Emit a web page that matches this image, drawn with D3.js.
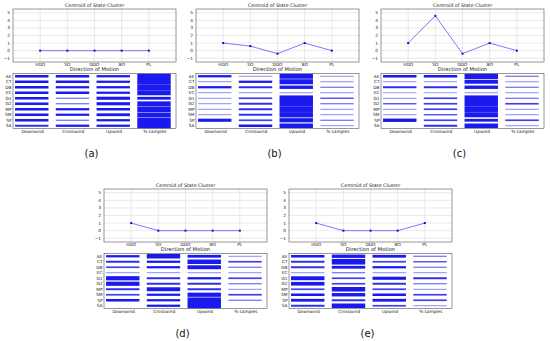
<!DOCTYPE html>
<html><head><meta charset="utf-8">
<script src="https://cdn.jsdelivr.net/npm/d3@7"></script>
<style>body{margin:0;background:#fff}svg{display:block}text{font-family:"DejaVu Sans",sans-serif}</style>
</head><body>
<script>
// ---------- data ----------
const features = ["HDO","SO","DDO","BO","PL"];
const states = ["AE","CT","DB","EC","G1","G2","MP","SM","SP","SA"];
const directions = ["Downwind","Crosswind","Upwind","% samples"];
const yTicks = [-1,0,1,2,3,4,5];
const captions = ["(a)","(b)","(c)","(d)","(e)"];

const centroidA = [0,0,0,0,0];
const centroidB = [1,0.6,-0.4,1,0];
const centroidC = [1,4.6,-0.4,1,0];
const centroidD = [1,0,0,0,0];
const centroidE = [1,0,0,0,1];

// rows = states, columns = directions (relative band thickness)
const motionA = [[0.45,0.45,0.4,1],[0.45,0.45,0.4,1],[0.45,0.4,0.4,1],[0.45,0.45,0.4,0.9],[0.45,0.2,0.55,0.5],
                 [0.45,0.2,0.55,0.85],[0.45,0.4,0.45,1],[0.45,0.4,0.5,0.8],[0.45,0.2,0.4,1],[0.35,0.4,0.4,1]];
const motionB = [[0.4,0.15,0.9,0.15],[0.15,0.4,0.9,0.15],[0.4,0.35,0.6,0.2],[0.15,0.15,0.15,0.15],[0.15,0.3,1,0.25],
                 [0.15,0.35,1,0.2],[0.15,0.35,1,0.15],[0.15,0.35,0.95,0.15],[0.55,0.3,0.75,0.2],[0,0.45,0.8,0.15]];
const motionC = [[0.45,0.45,1,0.2],[0.15,0.15,0.7,0.15],[0.35,0.35,0.6,0.2],[0.12,0.12,0.15,0.15],[0.15,0.3,1,0.2],
                 [0.25,0.3,1,0.3],[0.15,0.3,1,0.15],[0.15,0.25,0.9,0.15],[0.6,0.3,0.5,0.3],[0,0.35,0.8,0.15]];
const motionD = [[0.4,0.8,0.5,0.15],[0.35,0.4,0.8,0.3],[0.3,0.4,0.7,0.2],[0.15,0.15,0.15,0.15],[0.75,0.35,0.4,0.3],
                 [0.75,0.35,0.35,0.2],[0.35,0.7,0.35,0.15],[0.3,0.4,0.75,0.3],[0.45,0.4,1,0.2],[0,0.4,1,0]];
const motionE = [[0.45,0.6,0.5,0.2],[0.35,1,0.3,0.25],[0.35,0.5,0.4,0.2],[0.15,0.2,0.15,0.15],[0.7,0.3,0.55,0.35],
                 [0.65,0.3,0.35,0.2],[0.3,0.8,0.3,0.15],[0.45,0.6,0.45,0.3],[0.5,0.35,0.5,0.3],[0.35,0.8,0.3,0.15]];

const centroids = [centroidA,centroidB,centroidC,centroidD,centroidE];
const motions = [motionA,motionB,motionC,motionD,motionE];

// ---------- layout ----------
const W = 550, H = 341;
const layout = [
  {x:13, y:0}, {x:196, y:0}, {x:381, y:0}, {x:104, y:180}, {x:289, y:180}
];
const pw = 163;
const top1 = 9, bot1 = 62, top2 = 73.5, bot2 = 128.5;

const svg = d3.select("body").append("svg").attr("width",W).attr("height",H);

layout.forEach((L,i)=>{
  const g = svg.append("g").attr("transform",`translate(${L.x},${L.y})`);
  // ---- top: centroid ----
  const x = d3.scalePoint().domain(features).range([0,pw]).padding(1);
  const y = d3.scaleLinear().domain([-1.5,5.5]).range([bot1,top1]);
  const gt = g.append("g");
  gt.selectAll("line.hg").data(yTicks).join("line")
    .attr("x1",0).attr("x2",pw).attr("y1",d=>y(d)).attr("y2",d=>y(d))
    .attr("stroke","#d4d4d4").attr("stroke-width",0.5);
  gt.selectAll("line.vg").data(features).join("line")
    .attr("x1",d=>x(d)).attr("x2",d=>x(d)).attr("y1",top1).attr("y2",bot1)
    .attr("stroke","#d4d4d4").attr("stroke-width",0.5);
  gt.append("rect").attr("x",0).attr("y",top1).attr("width",pw).attr("height",bot1-top1)
    .attr("fill","none").attr("stroke","#333").attr("stroke-width",0.5);
  gt.selectAll("text.yt").data(yTicks).join("text")
    .attr("x",-3).attr("y",d=>y(d)).attr("dy","0.35em").attr("text-anchor","end")
    .attr("font-size",4.3).attr("fill","#222").text(d=>d<0?"\u2212"+(-d):d);
  gt.selectAll("text.xt").data(features).join("text")
    .attr("x",d=>x(d)).attr("y",bot1+3.8).attr("text-anchor","middle")
    .attr("font-size",4.3).attr("fill","#222").text(d=>d);
  gt.append("text").attr("x",pw/2).attr("y",top1-2.2).attr("text-anchor","middle")
    .attr("font-size",4.8).attr("fill","#222").text("Centroid of State Cluster");
  const pts = centroids[i].map((v,k)=>({f:features[k],v}));
  gt.append("path").datum(pts)
    .attr("d",d3.line().x(d=>x(d.f)).y(d=>y(d.v)))
    .attr("fill","none").attr("stroke","#6b6bff").attr("stroke-width",0.9);
  gt.selectAll("rect.mk").data(pts).join("rect")
    .attr("x",d=>x(d.f)-1).attr("y",d=>y(d.v)-1).attr("width",2).attr("height",2)
    .attr("fill","#1010d0");

  // ---- bottom: direction of motion ----
  const cx = d3.scaleBand().domain(directions).range([0,pw]);
  const ry = d3.scaleBand().domain(states).range([top2,bot2]);
  const gb = g.append("g");
  gb.append("text").attr("x",pw/2).attr("y",top2-3).attr("text-anchor","middle")
    .attr("font-size",5.2).attr("fill","#222").text("Direction of Motion");
  const clipId = "clip"+i;
  gb.append("clipPath").attr("id",clipId).append("rect")
    .attr("x",0).attr("y",top2).attr("width",pw).attr("height",bot2-top2);
  const cells = [];
  motions[i].forEach((row,r)=>row.forEach((v,c)=>cells.push({s:states[r],d:directions[c],v})));
  const rh = ry.bandwidth();
  gb.append("g").attr("clip-path",`url(#${clipId})`)
    .selectAll("rect").data(cells.filter(d=>d.v>0)).join("rect")
    .attr("x",d=>cx(d.d)+cx.bandwidth()*0.05)
    .attr("width",cx.bandwidth()*0.82)
    .attr("y",d=>ry(d.s)+rh/2-Math.max(0.8,d.v*rh*1.02)/2)
    .attr("height",d=>Math.max(0.8,d.v*rh*1.02))
    .attr("fill","#1a1aee")
    .attr("fill-opacity",d=>0.35+0.65*Math.min(1,d.v/0.4));
  gb.append("rect").attr("x",0).attr("y",top2).attr("width",pw).attr("height",bot2-top2)
    .attr("fill","none").attr("stroke","#333").attr("stroke-width",0.5);
  gb.selectAll("text.rl").data(states).join("text")
    .attr("x",-1.5).attr("y",d=>ry(d)+rh/2).attr("dy","0.35em").attr("text-anchor","end")
    .attr("font-size",4.3).attr("fill","#222").text(d=>d);
  gb.selectAll("text.cl").data(directions).join("text")
    .attr("x",d=>cx(d)+cx.bandwidth()*0.48).attr("y",bot2+4.2).attr("text-anchor","middle")
    .attr("font-size",4.3).attr("fill","#222").text(d=>d);
  g.append("text").attr("x",pw/2-3).attr("y",157).attr("text-anchor","middle")
    .attr("font-family","'DejaVu Serif',serif").attr("font-size",10).attr("fill","#111")
    .text(captions[i]);
});
</script>
</body></html>
